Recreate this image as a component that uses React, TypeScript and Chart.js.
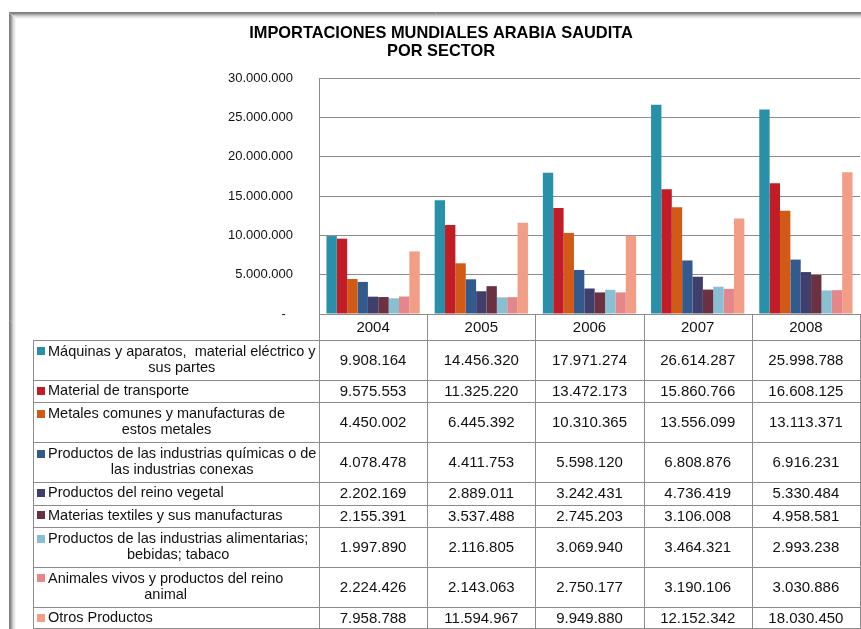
import React, { useEffect, useRef } from 'react';
import { Chart, registerables } from 'chart.js';

Chart.register(...registerables);

const years = ['2004', '2005', '2006', '2007', '2008'];
const titleLines = ['IMPORTACIONES MUNDIALES ARABIA SAUDITA', 'POR SECTOR'];
const seriesNames = [
  'Máquinas y aparatos,  material eléctrico y\nsus partes',
  'Material de transporte',
  'Metales comunes y manufacturas de\nestos metales',
  'Productos de las industrias químicas o de\nlas industrias conexas',
  'Productos del reino vegetal',
  'Materias textiles y sus manufacturas',
  'Productos de las industrias alimentarias;\nbebidas; tabaco',
  'Animales vivos y productos del reino\nanimal',
  'Otros Productos',
];
const maquinas = [9908164, 14456320, 17971274, 26614287, 25998788];
const transporte = [9575553, 11325220, 13472173, 15860766, 16608125];
const metales = [4450002, 6445392, 10310365, 13556099, 13113371];
const quimicas = [4078478, 4411753, 5598120, 6808876, 6916231];
const vegetal = [2202169, 2889011, 3242431, 4736419, 5330484];
const textiles = [2155391, 3537488, 2745203, 3106008, 4958581];
const alimentarias = [1997890, 2116805, 3069940, 3464321, 2993238];
const animales = [2224426, 2143063, 2750177, 3190106, 3030886];
const otros = [7958788, 11594967, 9949880, 12152342, 18030450];
const seriesValues = [maquinas, transporte, metales, quimicas, vegetal, textiles, alimentarias, animales, otros];
const seriesColors = ['#2990AA', '#C21D27', '#D15A17', '#335A8D', '#403F6B', '#6B3141', '#89BFD3', '#E5878A', '#F29D86'];
const yMax = 30000000;
const yStep = 5000000;

const FONT = '"Liberation Sans", Arial, sans-serif';
const fmt = (v: number) => String(Math.round(v)).replace(/\B(?=(\d{3})+(?!\d))/g, '.');

const framePlugin = {
  id: 'frame',
  beforeDraw(chart: any) {
    const { ctx, width, height } = chart;
    ctx.save();
    ctx.fillStyle = '#ffffff';
    ctx.fillRect(0, 0, width, height);
    const shades = ['#7f7f7f', '#8a8a8a', '#a8a8a8', '#c4c4c4', '#dadada', '#eaeaea', '#f5f5f5'];
    shades.forEach((c, k) => {
      ctx.strokeStyle = c;
      ctx.lineWidth = 1;
      ctx.beginPath();
      ctx.moveTo(9.5 + k, height);
      ctx.lineTo(9.5 + k, 12.5 + k);
      ctx.lineTo(width, 12.5 + k);
      ctx.stroke();
    });
    ctx.fillStyle = '#000000';
    ctx.font = `bold 16.4px ${FONT}`;
    ctx.textAlign = 'center';
    ctx.textBaseline = 'middle';
    titleLines.forEach((t, i) => ctx.fillText(t, 441, 33 + i * 18));
    ctx.restore();
  },
};

const tablePlugin = {
  id: 'dataTable',
  afterDraw(chart: any) {
    const { ctx, chartArea } = chart;
    const xs = chart.scales.x;
    const n = years.length;
    const colW = (chartArea.right - chartArea.left) / n;
    const tableLeft = 33;
    const headerH = 26;
    const top = chartArea.bottom;
    const lineGap = 16;

    const rows: { top: number; h: number; lines: string[] }[] = [];
    let y = top + headerH;
    seriesNames.forEach((name) => {
      const lines = name.split('\n');
      const h = 5.4 + 17.2 * lines.length;
      rows.push({ top: y, h, lines });
      y += h;
    });
    const bottom = y;

    ctx.save();
    ctx.strokeStyle = '#8c8c8c';
    ctx.lineWidth = 1;
    const line = (x1: number, y1: number, x2: number, y2: number) => {
      ctx.beginPath();
      ctx.moveTo(x1, y1);
      ctx.lineTo(x2, y2);
      ctx.stroke();
    };
    for (let i = 0; i <= n; i++) {
      const bx = Math.round(xs.getPixelForValue(0) - colW / 2 + i * colW) + 0.5;
      line(bx, top, bx, bottom);
    }
    line(tableLeft + 0.5, top + headerH, tableLeft + 0.5, bottom);
    rows.forEach((r) => line(tableLeft, Math.round(r.top) + 0.5, chartArea.right + 1, Math.round(r.top) + 0.5));
    line(tableLeft, Math.round(bottom) - 0.5, chartArea.right + 1, Math.round(bottom) - 0.5);

    ctx.fillStyle = '#111111';
    ctx.textBaseline = 'middle';
    ctx.textAlign = 'center';
    ctx.font = `15px ${FONT}`;
    years.forEach((yr, i) => ctx.fillText(yr, xs.getPixelForValue(i), top + headerH / 2 + 0.5));

    rows.forEach((r, si) => {
      const cy = r.top + r.h / 2;
      ctx.font = `15px ${FONT}`;
      ctx.textAlign = 'center';
      ctx.fillStyle = '#111111';
      seriesValues[si].forEach((v, i) => ctx.fillText(fmt(v), xs.getPixelForValue(i), cy + 0.5));

      ctx.font = `14.5px ${FONT}`;
      const widths = r.lines.map((l) => ctx.measureText(l).width);
      const maxW = Math.max(...widths);
      const firstY = cy - ((r.lines.length - 1) * lineGap) / 2;
      const textX = 48;
      ctx.fillStyle = seriesColors[si];
      ctx.fillRect(37, Math.round(firstY - 4.5), 8, 8);
      ctx.fillStyle = '#111111';
      r.lines.forEach((l, li) => {
        if (r.lines.length === 1) {
          ctx.textAlign = 'left';
          ctx.fillText(l, textX, firstY);
        } else {
          ctx.textAlign = 'center';
          ctx.fillText(l, textX + maxW / 2, firstY + li * lineGap);
        }
      });
    });
    ctx.restore();
  },
};

export default function App() {
  const ref = useRef<HTMLCanvasElement | null>(null);
  useEffect(() => {
    if (!ref.current) return;
    Chart.defaults.font.family = FONT;
    const chart = new Chart(ref.current, {
      type: 'bar',
      data: {
        labels: years,
        datasets: seriesNames.map((name, i) => ({
          label: name.replace('\n', ' '),
          data: seriesValues[i],
          backgroundColor: seriesColors[i],
          borderWidth: 0,
          categoryPercentage: 0.862,
          barPercentage: 1,
        })),
      },
      options: {
        responsive: false,
        animation: false,
        devicePixelRatio: 1,
        layout: { padding: { left: 9, right: 1, top: 78, bottom: 315 } },
        plugins: {
          legend: { display: false },
          title: { display: false },
          tooltip: { enabled: false },
        },
        scales: {
          x: {
            grid: { display: false, drawTicks: false },
            border: { display: true, color: '#8c8c8c', width: 1 },
            ticks: { display: false },
            afterFit: (s: any) => { s.height = 0; },
          },
          y: {
            min: 0,
            max: yMax,
            grid: { color: '#8c8c8c', drawTicks: false, lineWidth: 1 },
            border: { display: true, color: '#8c8c8c', width: 1 },
            ticks: {
              stepSize: yStep,
              padding: 26,
              color: '#111111',
              font: { size: 13, family: FONT },
              callback: (v: any) => (Number(v) === 0 ? '-  ' : fmt(Number(v))),
            },
            afterFit: (s: any) => { s.width = 310; },
          },
        },
      },
      plugins: [framePlugin, tablePlugin],
    });
    return () => chart.destroy();
  }, []);
  return (
    <div style={{ position: 'absolute', left: 0, top: 0, width: 861, height: 629, background: '#fff' }}>
      <canvas ref={ref} width={861} height={629} style={{ width: 861, height: 629, display: 'block' }} />
    </div>
  );
}
